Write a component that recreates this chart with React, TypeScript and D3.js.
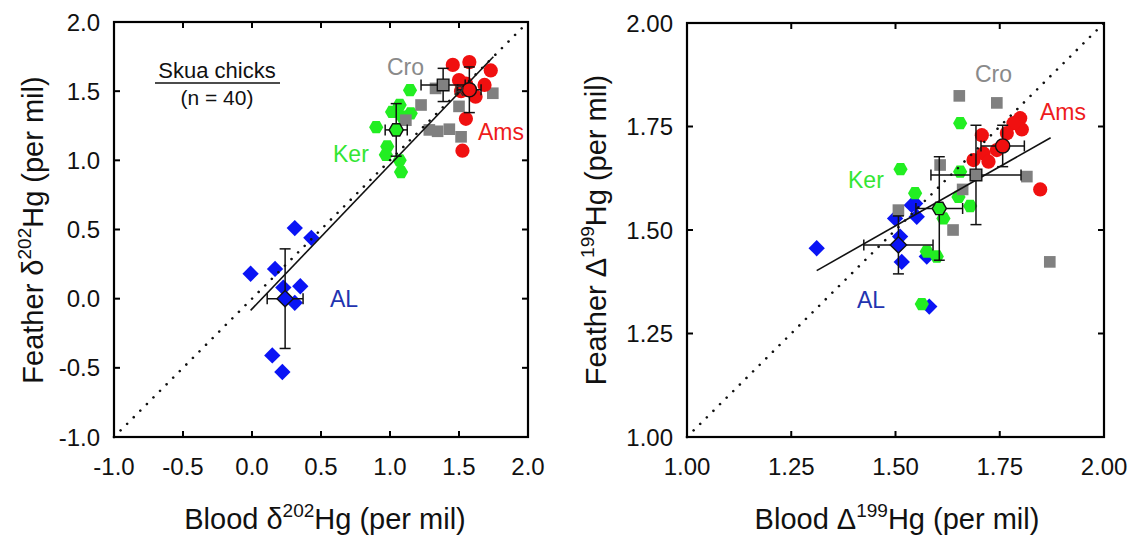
import React from 'react';
import * as d3 from 'd3';

const W = 1136;
const H = 535;
const FONT = '"Liberation Sans", Arial, Helvetica, sans-serif';

// ---------- Left panel data: delta202Hg (blood, feather) ----------
const leftTicks = [-1.0, -0.5, 0.0, 0.5, 1.0, 1.5, 2.0];
const leftTickLabels = ['-1.0', '-0.5', '0.0', '0.5', '1.0', '1.5', '2.0'];
const leftAL: [number, number][] = [
  [0.31, 0.51], [0.43, 0.44], [-0.01, 0.18], [0.167, 0.215], [0.227, 0.08],
  [0.35, 0.09], [0.31, -0.03], [0.147, -0.41], [0.22, -0.53],
];
const leftKer: [number, number][] = [
  [1.145, 1.507], [1.07, 1.4], [1.15, 1.34], [1.09, 1.315], [1.015, 1.35],
  [0.9, 1.24], [0.98, 1.1], [0.97, 1.04], [1.07, 1.0], [1.08, 0.915],
];
const leftCro: [number, number][] = [
  [1.115, 1.29], [1.225, 1.4], [1.285, 1.22], [1.345, 1.21], [1.43, 1.225],
  [1.515, 1.17], [1.5, 1.39], [1.745, 1.485], [1.33, 1.52],
];
const leftAms: [number, number][] = [
  [1.455, 1.69], [1.575, 1.71], [1.73, 1.65], [1.685, 1.545], [1.55, 1.555],
  [1.515, 1.5], [1.62, 1.46], [1.55, 1.3], [1.525, 1.07], [1.5, 1.58],
];
// group means: x, y, sdX, sdY
const leftMeans = [
  { g: 'AL', x: 0.24, y: 0.0, sx: 0.13, sy: 0.36 },
  { g: 'Ker', x: 1.045, y: 1.22, sx: 0.08, sy: 0.19 },
  { g: 'Cro', x: 1.385, y: 1.545, sx: 0.16, sy: 0.12 },
  { g: 'Ams', x: 1.575, y: 1.51, sx: 0.085, sy: 0.165 },
];
const leftFit = { slope: 1.042, intercept: -0.074, x0: -0.01, x1: 1.749 };

// ---------- Right panel data: Delta199Hg (blood, feather) ----------
const rightTicks = [1.0, 1.25, 1.5, 1.75, 2.0];
const rightTickLabels = ['1.00', '1.25', '1.50', '1.75', '2.00'];
const rightAL: [number, number][] = [
  [1.311, 1.456], [1.515, 1.423], [1.499, 1.528], [1.551, 1.532], [1.511, 1.484],
  [1.547, 1.564], [1.575, 1.436], [1.581, 1.315], [1.539, 1.56],
];
const rightKer: [number, number][] = [
  [1.655, 1.758], [1.512, 1.647], [1.655, 1.641], [1.547, 1.589], [1.651, 1.58],
  [1.679, 1.558], [1.615, 1.528], [1.575, 1.448], [1.599, 1.436], [1.563, 1.321],
];
const rightCro: [number, number][] = [
  [1.653, 1.824], [1.743, 1.807], [1.815, 1.629], [1.607, 1.657], [1.661, 1.598],
  [1.638, 1.5], [1.507, 1.548], [1.87, 1.423],
];
const rightAms: [number, number][] = [
  [1.799, 1.77], [1.803, 1.743], [1.783, 1.758], [1.767, 1.734], [1.707, 1.729],
  [1.743, 1.693], [1.711, 1.685], [1.687, 1.669], [1.723, 1.665], [1.847, 1.598],
];
const rightMeans = [
  { g: 'AL', x: 1.507, y: 1.464, sx: 0.083, sy: 0.07 },
  { g: 'Ker', x: 1.605, y: 1.552, sx: 0.056, sy: 0.125 },
  { g: 'Cro', x: 1.693, y: 1.633, sx: 0.108, sy: 0.12 },
  { g: 'Ams', x: 1.757, y: 1.703, sx: 0.052, sy: 0.05 },
];
const rightFit = { slope: 0.572, intercept: 0.652, x0: 1.311, x1: 1.872 };

const groupColor: Record<string, string> = {
  AL: '#0a14f5',
  Ker: '#22ee22',
  Cro: '#808080',
  Ams: '#f01010',
};
const labelColor: Record<string, string> = {
  AL: '#2233b0',
  Ker: '#33e633',
  Cro: '#8a8a8a',
  Ams: '#ee1c1c',
};

function markerPath(g: string, r: number): string {
  if (g === 'AL') {
    const d = r * 1.15;
    return `M0,${-d}L${d},0L0,${d}L${-d},0Z`;
  }
  if (g === 'Ker') {
    const pts = d3.range(6).map((i) => {
      const a = (Math.PI / 3) * i;
      return [r * Math.cos(a), r * Math.sin(a)];
    });
    return 'M' + pts.map((p) => p.join(',')).join('L') + 'Z';
  }
  if (g === 'Cro') {
    const s = r * 0.82;
    return `M${-s},${-s}H${s}V${s}H${-s}Z`;
  }
  return d3.arc()({ innerRadius: 0, outerRadius: r, startAngle: 0, endAngle: 2 * Math.PI }) as string;
}

type PanelProps = {
  x0: number; x1: number; y0: number; y1: number;
  domain: [number, number];
  ticks: number[]; tickLabels: string[];
  groups: { g: string; pts: [number, number][] }[];
  means: { g: string; x: number; y: number; sx: number; sy: number }[];
  fit: { slope: number; intercept: number; x0: number; x1: number };
  labels: { g: string; x: number; y: number }[];
};

function Panel(p: PanelProps) {
  const xs = d3.scaleLinear().domain(p.domain).range([p.x0, p.x1]);
  const ys = d3.scaleLinear().domain(p.domain).range([p.y0, p.y1]);
  const tl = 6;
  const r = 7.1;
  const cap = 5.5;
  return (
    <g>
      {p.groups.map((grp) =>
        grp.pts.map((pt, i) => (
          <path
            key={grp.g + i}
            d={markerPath(grp.g, r)}
            transform={`translate(${xs(pt[0])},${ys(pt[1])})`}
            fill={groupColor[grp.g]}
          />
        ))
      )}
      <line
        x1={xs(p.domain[0])} y1={ys(p.domain[0])}
        x2={xs(p.domain[1])} y2={ys(p.domain[1])}
        stroke="#111" strokeWidth={2.6} strokeLinecap="round" strokeDasharray="0.01 9.3"
      />
      <line
        x1={xs(p.fit.x0)} y1={ys(p.fit.slope * p.fit.x0 + p.fit.intercept)}
        x2={xs(p.fit.x1)} y2={ys(p.fit.slope * p.fit.x1 + p.fit.intercept)}
        stroke="#111" strokeWidth={1.6}
      />
      {p.means.map((m) => {
        const cx = xs(m.x), cy = ys(m.y);
        const xa = xs(m.x - m.sx), xb = xs(m.x + m.sx);
        const ya = ys(m.y - m.sy), yb = ys(m.y + m.sy);
        return (
          <g key={m.g} stroke="#111" strokeWidth={1.5} fill="none">
            <line x1={xa} y1={cy} x2={xb} y2={cy} />
            <line x1={xa} y1={cy - cap} x2={xa} y2={cy + cap} />
            <line x1={xb} y1={cy - cap} x2={xb} y2={cy + cap} />
            <line x1={cx} y1={ya} x2={cx} y2={yb} />
            <line x1={cx - cap} y1={ya} x2={cx + cap} y2={ya} />
            <line x1={cx - cap} y1={yb} x2={cx + cap} y2={yb} />
            <path
              d={markerPath(m.g, r)}
              transform={`translate(${cx},${cy})`}
              fill={groupColor[m.g]}
              stroke="#111"
              strokeWidth={1.4}
            />
          </g>
        );
      })}
      {p.labels.map((l) => (
        <text key={l.g} x={l.x} y={l.y} fontSize={23} fill={labelColor[l.g]} fontFamily={FONT}>
          {l.g}
        </text>
      ))}
      <rect x={p.x0} y={p.y1} width={p.x1 - p.x0} height={p.y0 - p.y1} fill="none" stroke="#000" strokeWidth={2.2} />
      {p.ticks.map((t) => (
        <g key={'t' + t} stroke="#000" strokeWidth={2}>
          <line x1={xs(t)} y1={p.y0} x2={xs(t)} y2={p.y0 - tl} />
          <line x1={xs(t)} y1={p.y1} x2={xs(t)} y2={p.y1 + tl} />
          <line x1={p.x0} y1={ys(t)} x2={p.x0 + tl} y2={ys(t)} />
          <line x1={p.x1} y1={ys(t)} x2={p.x1 - tl} y2={ys(t)} />
        </g>
      ))}
      {p.ticks.map((t, i) => (
        <text key={'xl' + t} x={xs(t)} y={p.y0 + 38} fontSize={24} textAnchor="middle" fontFamily={FONT} fill="#111">
          {p.tickLabels[i]}
        </text>
      ))}
      {p.ticks.map((t, i) => (
        <text key={'yl' + t} x={p.x0 - 14} y={ys(t) + 8.5} fontSize={24} textAnchor="end" fontFamily={FONT} fill="#111">
          {p.tickLabels[i]}
        </text>
      ))}
    </g>
  );
}

function AxisTitle(props: { x: number; y: number; rotate?: boolean; pre: string; sup: string }) {
  const tr = props.rotate
    ? `translate(${props.x},${props.y}) rotate(-90)`
    : `translate(${props.x},${props.y})`;
  return (
    <text transform={tr} fontSize={29} textAnchor="middle" fontFamily={FONT} fill="#111">
      <tspan>{props.pre}</tspan>
      <tspan fontSize={19} dy={-12}>{props.sup}</tspan>
      <tspan dy={12}>Hg (per mil)</tspan>
    </text>
  );
}

export default function App() {
  return (
    <svg
      width={W}
      height={H}
      viewBox={`0 0 ${W} ${H}`}
      style={{ position: 'absolute', left: 0, top: 0, background: '#fff' }}
    >
      <rect x={0} y={0} width={W} height={H} fill="#fff" />
      <Panel
        x0={114} x1={528} y0={437} y1={22}
        domain={[-1, 2]}
        ticks={leftTicks} tickLabels={leftTickLabels}
        groups={[
          { g: 'AL', pts: leftAL },
          { g: 'Ker', pts: leftKer },
          { g: 'Cro', pts: leftCro },
          { g: 'Ams', pts: leftAms },
        ]}
        means={leftMeans}
        fit={leftFit}
        labels={[
          { g: 'Cro', x: 387, y: 75 },
          { g: 'Ams', x: 478, y: 140 },
          { g: 'Ker', x: 333, y: 162 },
          { g: 'AL', x: 330, y: 307 },
        ]}
      />
      <text x={454} y={96} fontSize={14} fontFamily={FONT} fill="#333">R</text>
      <Panel
        x0={687} x1={1104} y0={437} y1={23}
        domain={[1, 2]}
        ticks={rightTicks} tickLabels={rightTickLabels}
        groups={[
          { g: 'AL', pts: rightAL },
          { g: 'Ker', pts: rightKer },
          { g: 'Cro', pts: rightCro },
          { g: 'Ams', pts: rightAms },
        ]}
        means={rightMeans}
        fit={rightFit}
        labels={[
          { g: 'Cro', x: 975, y: 82 },
          { g: 'Ams', x: 1040, y: 120 },
          { g: 'Ker', x: 848, y: 188 },
          { g: 'AL', x: 857, y: 308 },
        ]}
      />
      <text x={217} y={78} fontSize={22} textAnchor="middle" fontFamily={FONT} fill="#111">Skua chicks</text>
      <line x1={155} y1={83} x2={280} y2={83} stroke="#111" strokeWidth={1.6} />
      <text x={217} y={105} fontSize={21} textAnchor="middle" fontFamily={FONT} fill="#111">(n = 40)</text>

      <AxisTitle x={325} y={529} pre="Blood δ" sup="202" />
      <AxisTitle x={897} y={529} pre="Blood Δ" sup="199" />
      <AxisTitle x={43} y={230} rotate pre="Feather δ" sup="202" />
      <AxisTitle x={606} y={230} rotate pre="Feather Δ" sup="199" />
    </svg>
  );
}
